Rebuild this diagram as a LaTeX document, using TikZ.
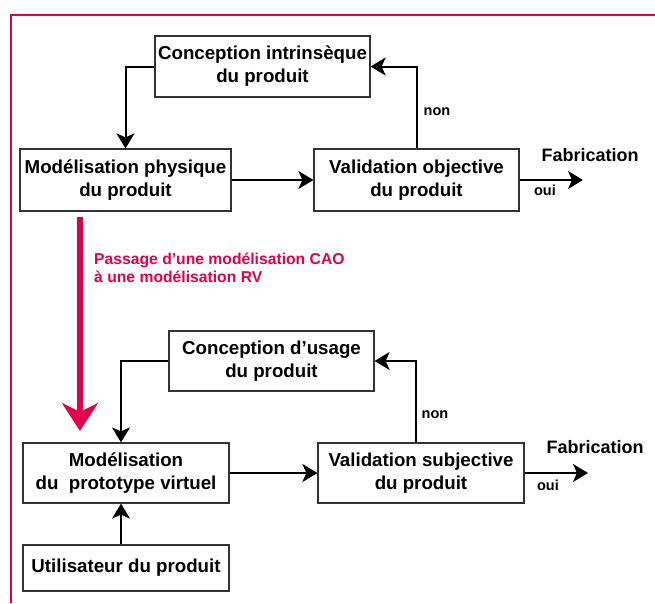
\documentclass[tikz,border=0pt]{standalone}
\usepackage{fontspec}
\setmainfont{Liberation Sans}
\usetikzlibrary{arrows.meta}
\definecolor{rvred}{HTML}{E2004A}
\begin{document}
\begin{tikzpicture}[x=1pt,y=-1pt,
  box/.style={draw=black!80,line width=1.2pt,inner sep=0pt,align=center,
    font=\fontsize{18.7}{23}\selectfont\bfseries},
  conn/.style={line width=2pt,-{Stealth[length=15pt,width=18pt,inset=4pt]}},
  lbl/.style={font=\fontsize{14.5}{16}\selectfont\bfseries,inner sep=0pt},
  fab/.style={font=\fontsize{18}{20}\selectfont\bfseries,inner sep=0pt}]
\useasboundingbox (0,0) rectangle (655,603);
\draw[rvred,line width=1.5pt] (11,603) -- (11,15) -- (655,15);
% upper part
\node[box,minimum width=215pt,minimum height=61pt] (b1) at (262.5,66.5) {Conception intrinsèque\\du produit};
\node[box,minimum width=211pt,minimum height=62pt] (b2) at (125.5,180) {Modélisation physique\\du produit};
\node[box,minimum width=205pt,minimum height=62pt] (b3) at (416.5,180) {Validation objective\\du produit};
\coordinate (f1) at (583,180);
\draw[conn] (b1.west) -| (b2.north);
\draw[conn] (b2.east) -- (b3.west);
\draw[conn] (b3.north) |- (b1.east);
\draw[conn] (b3.east) -- (f1);
\node[lbl] (n1) at (437,112) {non};
\node[lbl] (o1) at (545,190) {oui};
\node[fab] (fa1) at (590,155) {Fabrication};
% red transition
\coordinate (r1) at (80,217);
\coordinate (r2) at (80,431);
\draw[rvred,line width=6pt,-{Stealth[length=28pt,width=36pt,inset=9pt]}] (r1) -- (r2);
\node[rvred,anchor=west,align=left,inner sep=0pt,font=\fontsize{15.7}{18}\selectfont\bfseries] (rt) at (94,268) {Passage d’une modélisation CAO\\à une modélisation RV};
% lower part
\node[box,minimum width=205pt,minimum height=60pt] (b4) at (271.5,361) {Conception d’usage\\du produit};
\node[box,minimum width=206pt,minimum height=60pt] (b5) at (126,473) {Modélisation\\du\ \ prototype virtuel};
\node[box,minimum width=206pt,minimum height=60pt] (b6) at (421,473) {Validation subjective\\du produit};
\node[box,minimum width=206pt,minimum height=46pt] (b7) at (126,568) {Utilisateur du produit};
\coordinate (f2) at (588,473);
\draw[conn] (b4.west) -| ([xshift=-5pt]b5.north);
\draw[conn] (b5.east) -- (b6.west);
\draw[conn] ([xshift=-5pt]b6.north) |- (b4.east);
\draw[conn] (b6.east) -- (f2);
\draw[conn] ([xshift=-5pt]b7.north) -- ([xshift=-5pt]b5.south);
\node[lbl] (n2) at (435,415) {non};
\node[lbl] (o2) at (548,485) {oui};
\node[fab] (fa2) at (595,447) {Fabrication};
\end{tikzpicture}
\end{document}
